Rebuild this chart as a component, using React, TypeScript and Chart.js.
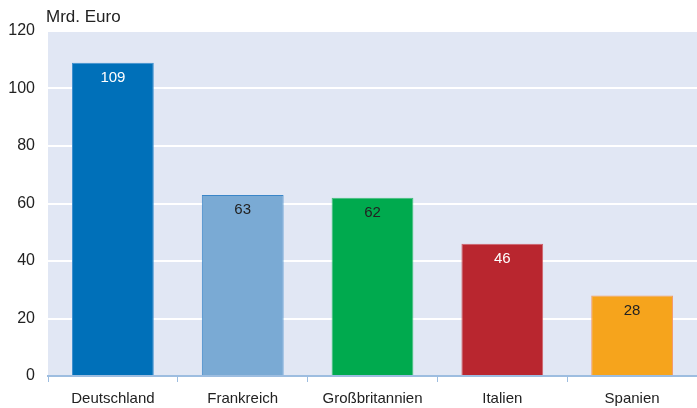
import React, { useEffect, useRef } from "react";
import { Chart, registerables } from "chart.js";

Chart.register(...registerables);

const categories = ["Deutschland", "Frankreich", "Großbritannien", "Italien", "Spanien"];
const values = [109, 63, 62, 46, 28];
const barColors = ["#0070b9", "#7aaad4", "#00aa4e", "#b9262f", "#f6a41c"];
const borderColors = ["#3d8fcf", "#3a86c8", "#3fbf7a", "#d0606a", "#f39a6a"];
const labelColors = ["#ffffff", "#222222", "#222222", "#ffffff", "#222222"];
const yTicks = [0, 20, 40, 60, 80, 100, 120];
const unitLabel = "Mrd. Euro";

const FONT = "'Liberation Sans', Arial, sans-serif";

export default function App() {
  const ref = useRef<HTMLCanvasElement | null>(null);
  useEffect(() => {
    document.body.style.margin = "0";
    const bgPlugin = {
      id: "bg",
      beforeDraw(chart: any) {
        const { ctx, chartArea } = chart;
        ctx.save();
        ctx.fillStyle = "#e1e7f4";
        ctx.fillRect(chartArea.left, chartArea.top, chartArea.right - chartArea.left, chartArea.bottom - chartArea.top);
        ctx.restore();
      },
      afterDraw(chart: any) {
        const { ctx } = chart;
        ctx.save();
        ctx.font = `17px ${FONT}`;
        ctx.fillStyle = "#222";
        ctx.textAlign = "left";
        ctx.textBaseline = "middle";
        ctx.fillText(unitLabel, 46, 17);
        const meta = chart.getDatasetMeta(0);
        ctx.font = `15px ${FONT}`;
        ctx.textAlign = "center";
        meta.data.forEach((bar: any, i: number) => {
          ctx.fillStyle = labelColors[i];
          ctx.fillText(String(values[i]), bar.x, bar.y + 15);
        });
        ctx.restore();
      },
    };
    const chart = new Chart(ref.current!, {
      type: "bar",
      data: {
        labels: categories,
        datasets: [
          {
            data: values,
            backgroundColor: barColors,
            borderColor: borderColors,
            borderWidth: 1,
            borderSkipped: "bottom",
            barPercentage: 0.63,
            categoryPercentage: 1,
          },
        ],
      },
      options: {
        animation: false,
        responsive: false,
        maintainAspectRatio: false,
        layout: { padding: { top: 31, right: 0, left: 0, bottom: 0 } },
        plugins: { legend: { display: false }, tooltip: { enabled: false } },
        scales: {
          x: {
            grid: {
              offset: true,
              drawOnChartArea: false,
              drawTicks: true,
              tickLength: 6,
              color: "#9dbde0",
            },
            border: { display: true, color: "#9dbde0", width: 2 },
            ticks: { font: { family: FONT, size: 15 }, color: "#222", padding: 8 },
            afterFit(scale: any) {
              scale.height = 32;
            },
          },
          y: {
            min: 0,
            max: 120,
            afterBuildTicks(scale: any) {
              scale.ticks = yTicks.map((v) => ({ value: v }));
            },
            grid: { color: "#ffffff", lineWidth: 2, drawTicks: false },
            border: { display: false },
            ticks: { font: { family: FONT, size: 16 }, color: "#222", padding: 13 },
            afterFit(scale: any) {
              scale.width = 48;
            },
          },
        },
      },
      plugins: [bgPlugin],
    });
    return () => chart.destroy();
  }, []);
  return (
    <div style={{ position: "absolute", left: 0, top: 0, width: 697, height: 408 }}>
      <canvas ref={ref} width={697} height={408} style={{ width: 697, height: 408 }} />
    </div>
  );
}
